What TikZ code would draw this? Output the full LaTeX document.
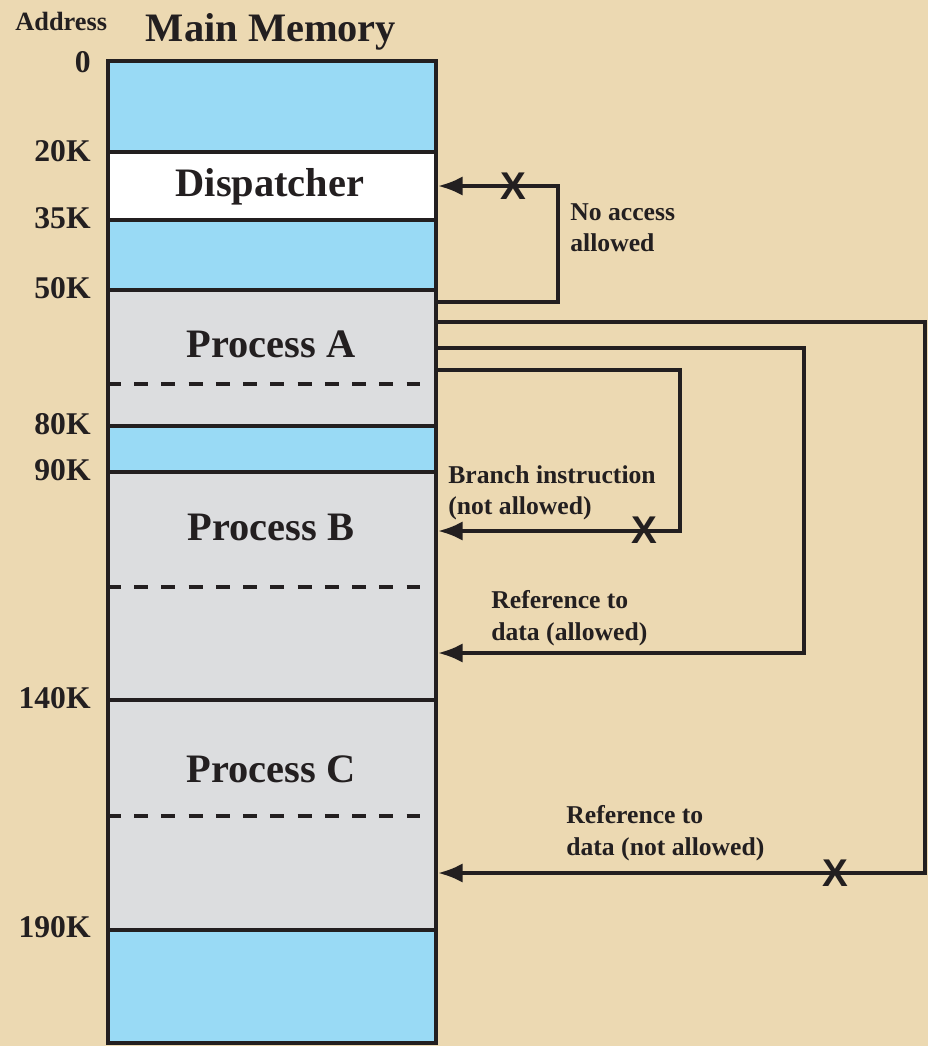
\documentclass[tikz,border=0pt]{standalone}
\usepackage{fontspec}
\setmainfont{Liberation Serif}
\newfontfamily\crossfont{Liberation Sans}
\usetikzlibrary{arrows.meta,fit,positioning}
\definecolor{parchment}{RGB}{236,217,178}
\definecolor{memblue}{RGB}{153,218,245}
\definecolor{memgray}{RGB}{220,221,223}
\definecolor{inkblack}{RGB}{35,31,32}
\tikzset{seg/.style={draw=inkblack,line width=2.2pt,inner sep=0pt,outer sep=0pt},
%address and title text
addr/.style={anchor=east,inner sep=0pt,font=\bfseries\fontsize{18}{21}\selectfont},
memtitle/.style={anchor=base,inner sep=0pt,font=\bfseries\fontsize{23}{27}\selectfont},
notetext/.style={anchor=north west,align=left,inner sep=0pt,font=\bfseries\fontsize{14.6}{18.1}\selectfont},
denied/.style={inner sep=0pt,text=inkblack,font=\crossfont\bfseries\fontsize{22}{22}\selectfont},
conn/.style={draw=inkblack,line width=2.2pt,line join=miter,-{Latex[length=14pt,width=11pt]}},
partline/.style={draw=inkblack,line width=2.8pt,dash pattern=on 7.9pt off 7.6pt}}

\begin{document}
\begin{tikzpicture}[x=0.02cm,y=-0.02cm,text=inkblack]

%BACKGROUND
  \fill[parchment] (0,0) rectangle (928,1046);
  \useasboundingbox (0,0) rectangle (928,1046);

%DRAWING MEMORY
  \node[seg,fill=memblue,fit={(108,61)(436,152)}] (free1) {};
  \node[seg,fill=white,fit={(108,152)(436,220)}] (disp) {};
  \node[seg,fill=memblue,fit={(108,220)(436,290)}] (free2) {};
  \node[seg,fill=memgray,fit={(108,290)(436,426)}] (procA) {};
  \node[seg,fill=memblue,fit={(108,426)(436,472)}] (free3) {};
  \node[seg,fill=memgray,fit={(108,472)(436,700)}] (procB) {};
  \node[seg,fill=memgray,fit={(108,700)(436,930)}] (procC) {};
  \node[seg,fill=memblue,fit={(108,930)(436,1043)}] (free4) {};

  \draw[partline] (107,384) -- (423,384);
  \draw[partline] (107,587) -- (423,587);
  \draw[partline] (107,816) -- (423,816);

  \node[memtitle] (mainTitle) at (271,41) {Main Memory};
  \node[memtitle] (dispName) at (270,196) {Dispatcher};
  \node[memtitle] (procAName) at (271,357) {Process A};
  \node[memtitle] (procBName) at (271,540) {Process B};
  \node[memtitle] (procCName) at (271,782) {Process C};

%DRAWING ADDRESSES
  \node[anchor=base west,inner sep=0pt,font=\bfseries\fontsize{15}{18}\selectfont] (addrTitle) at (15,30) {Address};
  \node[addr] (a0) at (91,62) {0};
  \node[addr] (a20) at (91,151) {20K};
  \node[addr] (a35) at (91,218) {35K};
  \node[addr] (a50) at (91,288) {50K};
  \node[addr] (a80) at (91,424) {80K};
  \node[addr] (a90) at (91,470) {90K};
  \node[addr] (a140) at (91,698) {140K};
  \node[addr] (a190) at (91,927) {190K};

%DRAWING ACCESSES
  \coordinate (outA1) at (437,302);
  \coordinate (dispIn) at (438,186);
  \draw[conn] (outA1) -| (558,186) -- (dispIn);
  \node[denied] (x1) at (513,186) {X};
  \node[notetext] (noAccess) at (570,203) {No access\\allowed};

  \coordinate (outA2) at (437,322);
  \coordinate (procCIn) at (438,873);
  \draw[conn] (outA2) -| (925,873) -- (procCIn);
  \node[denied] (x3) at (835,873) {X};
  \node[notetext] (refNo) at (566,805) {Reference to\\data (not allowed)};

  \coordinate (outA3) at (437,348);
  \coordinate (procBIn2) at (438,653);
  \draw[conn] (outA3) -| (804,653) -- (procBIn2);
  \node[notetext] (refYes) at (491,590) {Reference to\\data (allowed)};

  \coordinate (outA4) at (437,370);
  \coordinate (procBIn1) at (438,531);
  \draw[conn] (outA4) -| (680,531) -- (procBIn1);
  \node[denied] (x2) at (644,530) {X};
  \node[notetext] (branch) at (448,465) {Branch instruction\\(not allowed)};

\end{tikzpicture}
\end{document}
